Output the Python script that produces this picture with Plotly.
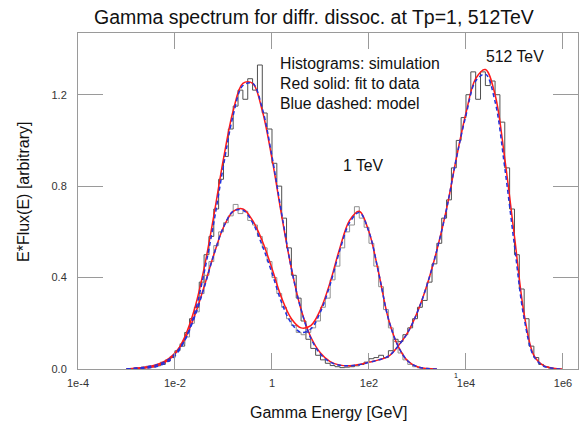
import numpy as np
import plotly.graph_objects as go

# ---------------- data (log10 of gamma energy in GeV) ----------------
FIT_LOG_START = -3.0
FIT_LOG_STEP = 0.2

fit_1tev = [0.000, 0.004, 0.009, 0.018, 0.035, 0.07, 0.13, 0.23, 0.36, 0.50,
            0.62, 0.69, 0.70, 0.65, 0.56, 0.44, 0.31, 0.22, 0.18, 0.19,
            0.26, 0.38, 0.53, 0.65, 0.69, 0.60, 0.42, 0.22, 0.10, 0.035,
            0.01, 0.002, 0.0]
model_1tev = [0.000, 0.004, 0.009, 0.017, 0.033, 0.066, 0.125, 0.225, 0.355, 0.50,
              0.62, 0.69, 0.695, 0.64, 0.54, 0.42, 0.29, 0.20, 0.16, 0.175,
              0.25, 0.37, 0.52, 0.64, 0.685, 0.60, 0.42, 0.22, 0.10, 0.035,
              0.01, 0.002, 0.0]

fit_512tev = [0.000, 0.002, 0.005, 0.012, 0.03, 0.065, 0.14, 0.26, 0.44, 0.67,
              0.92, 1.13, 1.25, 1.25, 1.13, 0.92, 0.67, 0.44, 0.26, 0.14,
              0.07, 0.032, 0.017, 0.014, 0.02, 0.03, 0.04, 0.055, 0.10, 0.16,
              0.25, 0.37, 0.52, 0.70, 0.92, 1.12, 1.27, 1.31, 1.20, 0.92,
              0.58, 0.24, 0.06, 0.015, 0.003, 0.0]
model_512tev = [0.000, 0.002, 0.004, 0.010, 0.026, 0.058, 0.125, 0.24, 0.42, 0.64,
                0.89, 1.11, 1.24, 1.25, 1.14, 0.93, 0.68, 0.44, 0.26, 0.135,
                0.065, 0.03, 0.016, 0.014, 0.019, 0.029, 0.04, 0.056, 0.10, 0.16,
                0.25, 0.37, 0.52, 0.70, 0.92, 1.11, 1.26, 1.29, 1.17, 0.88,
                0.54, 0.22, 0.055, 0.013, 0.003, 0.0]

HIST_LOG_START = -3.0
HIST_LOG_BIN = 0.1

hist_1tev = [0.0, 0.002, 0.004, 0.008, 0.012, 0.010, 0.02, 0.03, 0.04, 0.055,
             0.08, 0.11, 0.14, 0.20, 0.25, 0.33, 0.41, 0.47, 0.54, 0.60,
             0.64, 0.67, 0.72, 0.68, 0.69, 0.65, 0.63, 0.58, 0.53, 0.47,
             0.40, 0.33, 0.27, 0.22, 0.19, 0.16, 0.15, 0.16, 0.18, 0.21,
             0.27, 0.31, 0.39, 0.45, 0.53, 0.60, 0.63, 0.71, 0.66, 0.62,
             0.55, 0.45, 0.36, 0.26, 0.18, 0.12, 0.07, 0.04, 0.02, 0.01,
             0.005, 0.0]

hist_512tev = [0.0, 0.001, 0.003, 0.004, 0.006, 0.009, 0.014, 0.02, 0.034, 0.05,
               0.08, 0.10, 0.16, 0.22, 0.27, 0.38, 0.50, 0.58, 0.70, 0.83,
               0.93, 1.05, 1.15, 1.22, 1.18, 1.27, 1.22, 1.33, 1.12, 1.05,
               0.90, 0.80, 0.66, 0.53, 0.41, 0.31, 0.21, 0.13, 0.09, 0.06,
               0.04, 0.025, 0.015, 0.01, 0.006, 0.008, 0.01, 0.014, 0.02, 0.03,
               0.045, 0.05, 0.06, 0.05, 0.08, 0.13, 0.12, 0.15, 0.18, 0.22,
               0.27, 0.30, 0.38, 0.46, 0.55, 0.66, 0.74, 0.88, 1.00, 1.10,
               1.20, 1.30, 1.18, 1.30, 1.24, 1.26, 1.20, 1.08, 0.88, 0.70,
               0.50, 0.35, 0.22, 0.10, 0.05, 0.02, 0.01, 0.004, 0.0]

x_tick_vals = [1e-4, 1e-2, 1, 1e2, 1e4, 1e6]
x_tick_text = ["1e-4", "1e-2", "1", "1e2", "1e4", "1e6"]
y_tick_vals = [0.0, 0.4, 0.8, 1.2]
y_tick_text = ["0.0", "0.4", "0.8", "1.2"]

# ---------------- helpers ----------------
def fit_x(vals):
    return 10 ** (FIT_LOG_START + FIT_LOG_STEP * np.arange(len(vals)))

def hist_xy(vals):
    edges = 10 ** (HIST_LOG_START + HIST_LOG_BIN * np.arange(len(vals) + 1))
    return edges, list(vals) + [vals[-1]]

FONT = "Liberation Sans, Arial, sans-serif"
fig = go.Figure()

hx, hy = hist_xy(hist_512tev)
fig.add_trace(go.Scatter(x=hx, y=hy, mode="lines", line=dict(color="#505050", width=1, shape="hv"),
                         showlegend=False, hoverinfo="skip"))
hx, hy = hist_xy(hist_1tev)
fig.add_trace(go.Scatter(x=hx, y=hy, mode="lines", line=dict(color="#909090", width=1, shape="hv"),
                         showlegend=False, hoverinfo="skip"))

for vals in (fit_1tev, fit_512tev):
    fig.add_trace(go.Scatter(x=fit_x(vals), y=vals, mode="lines",
                             line=dict(color="#ff1a1a", width=1.5, shape="spline", smoothing=1.0),
                             showlegend=False, hoverinfo="skip"))
for vals in (model_1tev, model_512tev):
    fig.add_trace(go.Scatter(x=fit_x(vals), y=vals, mode="lines",
                             line=dict(color="#2233dd", width=1.5, dash="4px,3px", shape="spline", smoothing=1.0),
                             showlegend=False, hoverinfo="skip"))

axis_common = dict(showline=True, linecolor="#9a9a9a", linewidth=1, mirror="ticks",
                   ticks="inside", tickcolor="#9a9a9a", tickwidth=1,
                   showgrid=False, zeroline=False,
                   tickfont=dict(family=FONT, size=11, color="#333333"))

fig.update_xaxes(type="log", range=[-4, 6.31], tickvals=x_tick_vals, ticktext=x_tick_text,
                 ticklen=16, ticklabelstandoff=4, **axis_common)
fig.update_yaxes(range=[0, 1.47], tickvals=y_tick_vals, ticktext=y_tick_text,
                 ticklen=25, ticklabelstandoff=8, **axis_common)

ann = []
def txt(x, y, s, size, anchor="center", angle=0):
    ann.append(dict(x=x, y=y, xref="paper", yref="paper", text=s, showarrow=False,
                    xanchor=anchor, yanchor="middle", textangle=angle,
                    font=dict(family=FONT, size=size, color="#111111")))

W, H = 579, 427
L, R, T, B = 78, 1, 33, 58
pw, ph = W - L - R, H - T - B
def px(xp): return (xp - L) / pw
def py(yp): return (H - B - yp) / ph

txt(px(314), py(17), "Gamma spectrum for diffr. dissoc. at Tp=1, 512TeV", 19.5)
txt(px(328), py(412), "Gamma Energy [GeV]", 16)
txt(px(23), py(192), "E*Flux(E) [arbitrary]", 16, angle=-90)
txt(px(278), py(63), "Histograms: simulation", 15.8, anchor="left")
txt(px(278), py(83), "Red solid: fit to data", 15.8, anchor="left")
txt(px(278), py(103), "Blue dashed: model", 15.8, anchor="left")
txt(px(363), py(165), "1 TeV", 15.8)
txt(px(515), py(57), "512 TeV", 15.8)
txt(px(456), py(375), "1", 7)

fig.update_layout(width=W, height=H, margin=dict(l=L, r=R, t=T, b=B),
                  paper_bgcolor="white", plot_bgcolor="white",
                  annotations=ann, font=dict(family=FONT))

fig.write_html("out.html")
